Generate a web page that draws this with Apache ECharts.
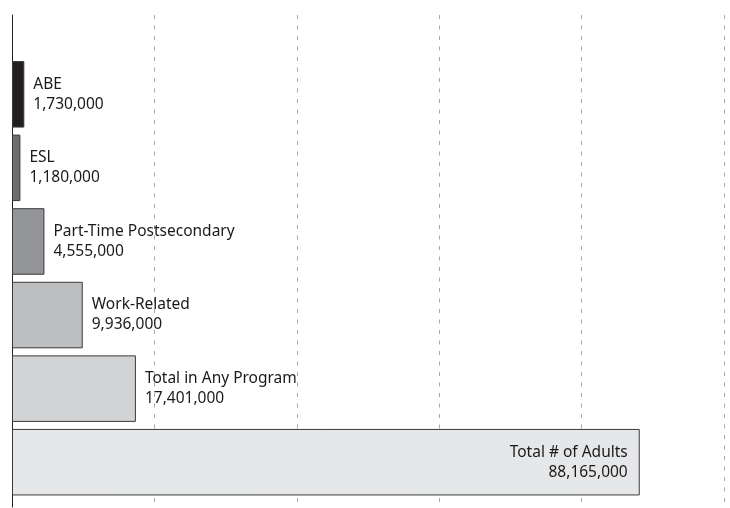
<!DOCTYPE html>
<html>
<head>
<meta charset="utf-8">
<script src="https://cdn.jsdelivr.net/npm/echarts@6/dist/echarts.min.js"></script>
<style>
  html, body { margin: 0; padding: 0; background: #fff; }
  #chart { width: 730px; height: 508px; }
</style>
</head>
<body>
<div id="chart"></div>
<script>
const categories = ["ABE", "ESL", "Part-Time Postsecondary", "Work-Related", "Total in Any Program", "Total # of Adults"];
const values = [1730000, 1180000, 4555000, 9936000, 17401000, 88165000];
const barColors = ["#231f20", "#6d6e71", "#939598", "#bcbec0", "#d1d3d4", "#e6e7e8"];
const axisMax = 100000000;
const axisStep = 20000000;

const fmt = v => v.toLocaleString("en-US");

const chart = echarts.init(document.getElementById("chart"), null, { renderer: "canvas" });

const barData = values.map((v, i) => {
  const item = {
    value: v,
    itemStyle: { color: barColors[i] }
  };
  // the longest bar keeps its label inside, right-aligned
  if (i === values.length - 1) {
    item.label = { position: "insideRight", distance: 12, align: "right" };
  }
  return item;
});

chart.setOption({
  animation: false,
  textStyle: { fontFamily: "Noto Sans" },
  grid: [
    { left: 12, right: 6, top: 57.5, bottom: 9 },   // bars
    { left: 12, right: 6, top: 15, bottom: 1 }      // axis line + dashed grid
  ],
  xAxis: [
    {
      gridIndex: 0, type: "value", min: 0, max: axisMax, interval: axisStep,
      axisLine: { show: false }, axisTick: { show: false },
      axisLabel: { show: false }, splitLine: { show: false }
    },
    {
      gridIndex: 1, type: "value", min: 0, max: axisMax, interval: axisStep,
      axisLine: { show: false }, axisTick: { show: false },
      axisLabel: { show: false },
      splitLine: { show: true, lineStyle: { color: "#a7a9ac", type: [4, 6.5], width: 1 } }
    }
  ],
  yAxis: [
    {
      gridIndex: 0, type: "category", data: categories, inverse: true,
      axisLine: { show: false }, axisTick: { show: false }, axisLabel: { show: false }
    },
    {
      gridIndex: 1, type: "category", data: [""],
      axisLine: { show: true, lineStyle: { color: "#231f20", width: 1 } },
      axisTick: { show: false }, axisLabel: { show: false }
    }
  ],
  series: [{
    type: "bar",
    xAxisIndex: 0,
    yAxisIndex: 0,
    barCategoryGap: "9.6%",
    data: barData,
    itemStyle: { borderColor: "#3a3a3a", borderWidth: 1 },
    label: {
      show: true,
      position: "right",
      distance: 9,
      align: "left",
      color: "#1a1a1a",
      fontSize: 15.5,
      lineHeight: 20,
      formatter: p => categories[p.dataIndex] + "\n" + fmt(p.value)
    }
  }]
});
</script>
</body>
</html>
